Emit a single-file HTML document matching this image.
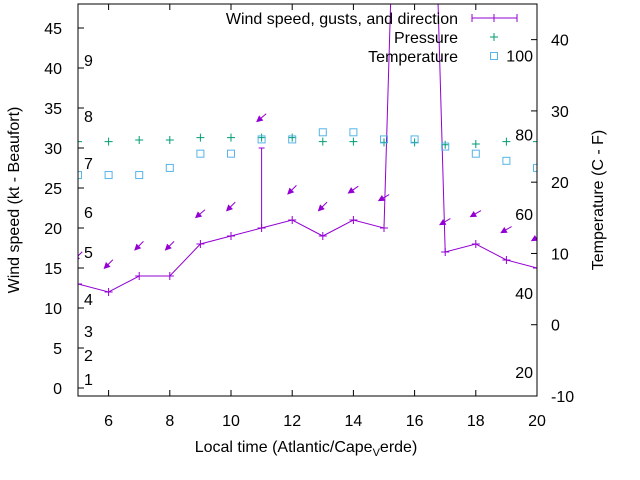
<!DOCTYPE html>
<html><head><meta charset="utf-8"><style>
body{margin:0;background:#fff}
svg{display:block;font-family:"Liberation Sans",sans-serif}
</style></head><body>
<svg id="chart" width="640" height="480" xmlns="http://www.w3.org/2000/svg">
<defs><clipPath id="pc"><rect x="78" y="4" width="459" height="392"/></clipPath></defs>
<g id="grid"></g>
<g id="marks" clip-path="url(#pc)"></g>
<g id="axes"></g>
</svg>
<script>
const hours=[5,6,7,8,9,10,11,12,13,14,15,16,17,18,19,20];
const windKt=[13,12,14,14,18,19,20,21,19,21,20,150,17,18,16,15];
const gustHours=[11];
const gustKt=[30];
const dirY=[16.5,15.5,17.8,17.8,21.8,22.7,33.8,24.8,22.7,24.8,23.8,null,20.8,21.8,19.8,18.8];
const dirDeg=[45,45,45,45,40,45,40,45,45,35,30,null,30,30,30,30];
const pressure=[30.8,30.8,31.0,31.0,31.3,31.3,31.3,31.3,30.8,30.8,30.7,30.7,30.4,30.5,30.8,30.8];
const tempC=[21,21,21,22,24,24,26,26,27,27,26,26,25,24,23,22];
const xTicks=[6,8,10,12,14,16,18,20];
const yTicks=[0,5,10,15,20,25,30,35,40,45];
const y2Ticks=[-10,0,10,20,30,40];
const beaufort=[[1,379],[2,355],[3,331],[4,299],[5,252],[6,212],[7,163],[8,116],[9,60]];
const fahr=[20,40,60,80,100];

const L=78,R=537,T=4,B=396;
const X=h=>L+(h-5)*(R-L)/15;
const Y=v=>B-(v+1)*(B-T)/49;
const Y2=c=>B-(c+10)*(B-T)/55;
const F2Y=f=>Y2((f-32)*5/9);
const NS="http://www.w3.org/2000/svg";
const FS=16;
function mk(tag,attrs,parent,text){const e=document.createElementNS(NS,tag);for(const k in attrs)e.setAttribute(k,attrs[k]);if(text!=null)e.textContent=text;document.getElementById(parent).appendChild(e);return e;}
const P="#9400d3";

let e=mk('rect',{x:L,y:T,width:R-L,height:B-T,fill:'none',stroke:'#000','stroke-width':1},'axes');

xTicks.forEach(t=>{
 mk('line',{x1:X(t),x2:X(t),y1:B,y2:B-6,stroke:'#000'},'axes');
 mk('line',{x1:X(t),x2:X(t),y1:T,y2:T+6,stroke:'#000'},'axes');
 e=mk('text',{x:X(t),y:426,'text-anchor':'middle','font-size':FS},'axes',t);
 
});
yTicks.forEach(t=>{
 mk('line',{x1:L,x2:L+6,y1:Y(t),y2:Y(t),stroke:'#000'},'axes');
 e=mk('text',{x:62,y:Y(t)+6,'text-anchor':'end','font-size':FS},'axes',t);
 
});
y2Ticks.forEach(t=>{
 mk('line',{x1:R,x2:R-6,y1:Y2(t),y2:Y2(t),stroke:'#000'},'axes');
 e=mk('text',{x:551,y:Y2(t)+6,'text-anchor':'start','font-size':FS},'axes',t);
 
});
beaufort.forEach(b=>{
 e=mk('text',{x:84,y:b[1]+6,'font-size':FS},'axes',b[0]);
 
});
fahr.forEach(f=>{
 e=mk('text',{x:533,y:F2Y(f)+6,'text-anchor':'end','font-size':FS},'axes',f);
 
});

let d=hours.map((h,i)=>(i?'L':'M')+X(h)+' '+Y(windKt[i])).join(' ');
e=mk('path',{d:d,fill:'none',stroke:P,'stroke-width':1},'marks');

hours.forEach((h,i)=>{
 const x=X(h),y=Y(windKt[i]);
 e=mk('path',{d:`M${x-4} ${y}H${x+4}M${x} ${y-4}V${y+4}`,stroke:P},'marks');
 
});
gustHours.forEach((h,i)=>{
 const x=X(h);
 e=mk('path',{d:`M${x} ${Y(windKt[hours.indexOf(h)])}V${Y(gustKt[i])}M${x-3} ${Y(gustKt[i])}H${x+3}`,stroke:P},'marks');
 
});
hours.forEach((h,i)=>{
 if(dirY[i]==null)return;
 const a=dirDeg[i]*Math.PI/180, cx=X(h), cy=Y(dirY[i]), len=12;
 const hx=cx-len/2*Math.cos(a), hy=cy+len/2*Math.sin(a);
 const tx=cx+len/2*Math.cos(a), ty=cy-len/2*Math.sin(a);
 const ux=Math.cos(a), uy=-Math.sin(a);
 const p1x=hx+ux*5-uy*2.5, p1y=hy+uy*5+ux*2.5, p2x=hx+ux*5+uy*2.5, p2y=hy+uy*5-ux*2.5;
 e=mk('path',{d:`M${tx} ${ty}L${hx} ${hy}M${hx} ${hy}L${p1x} ${p1y}L${p2x} ${p2y}Z`,stroke:P,fill:P,'stroke-width':1},'marks');
 
});
hours.forEach((h,i)=>{
 const x=X(h),y=Y(pressure[i]);
 e=mk('path',{d:`M${x-4} ${y}H${x+4}M${x} ${y-4}V${y+4}`,stroke:'#009e73'},'marks');
 
});
hours.forEach((h,i)=>{
 const x=X(h),y=Y2(tempC[i]);
 e=mk('rect',{x:x-3.5,y:y-3.5,width:7,height:7,fill:'none',stroke:'#56b4e9'},'marks');
 
});
e=mk('text',{x:458,y:24,'text-anchor':'end','font-size':FS},'axes','Wind speed, gusts, and direction');

mk('path',{d:'M472 18H517M472 14V22M517 14V22M494 14V22',stroke:P},'axes');
e=mk('text',{x:458,y:43,'text-anchor':'end','font-size':FS},'axes','Pressure');

mk('path',{d:'M490 37H498M494 33V41',stroke:'#009e73'},'axes');
e=mk('text',{x:458,y:62,'text-anchor':'end','font-size':FS},'axes','Temperature');

mk('rect',{x:490.5,y:52.5,width:7,height:7,fill:'none',stroke:'#56b4e9'},'axes');
e=mk('text',{x:19,y:200,'text-anchor':'middle','font-size':FS,transform:'rotate(-90 19 200)'},'axes','Wind speed (kt - Beaufort)');

e=mk('text',{x:603,y:200,'text-anchor':'middle','font-size':FS,transform:'rotate(-90 603 200)'},'axes','Temperature (C - F)');

e=mk('text',{x:306,y:452,'text-anchor':'middle','font-size':FS},'axes');

e.innerHTML='Local time (Atlantic/Cape<tspan font-size="11" dy="4">V</tspan><tspan dy="-4">erde)</tspan>';
</script>
</body></html>
